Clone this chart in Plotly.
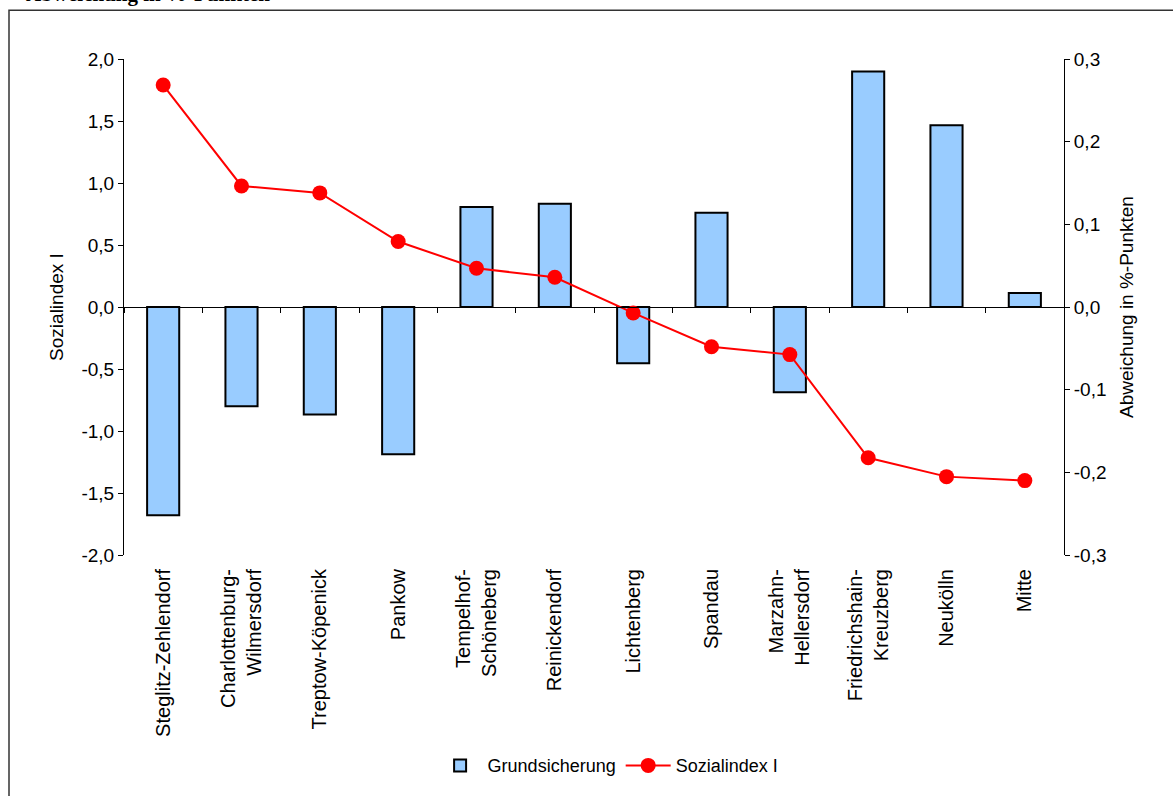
import plotly.graph_objects as go

districts = ["Steglitz-Zehlendorf", "Charlottenburg-<br>Wilmersdorf", "Treptow-Köpenick", "Pankow",
             "Tempelhof-<br>Schöneberg", "Reinickendorf", "Lichtenberg", "Spandau",
             "Marzahn-<br>Hellersdorf", "Friedrichshain-<br>Kreuzberg", "Neukölln", "Mitte"]
grundsicherung = [-0.252, -0.120, -0.130, -0.178, 0.121, 0.125, -0.068, 0.114, -0.103, 0.285, 0.220, 0.017]
sozialindex = [1.79, 0.976, 0.92, 0.528, 0.312, 0.24, -0.048, -0.32, -0.384, -1.216, -1.368, -1.40]

left_ticks = [-2.0, -1.5, -1.0, -0.5, 0.0, 0.5, 1.0, 1.5, 2.0]
left_labels = ["-2,0", "-1,5", "-1,0", "-0,5", "0,0", "0,5", "1,0", "1,5", "2,0"]
right_ticks = [-0.3, -0.2, -0.1, 0.0, 0.1, 0.2, 0.3]
right_labels = ["-0,3", "-0,2", "-0,1", "0,0", "0,1", "0,2", "0,3"]

FONT = "Liberation Sans, Arial, sans-serif"
FS = 19

fig = go.Figure()
fig.add_trace(go.Bar(x=districts, y=grundsicherung, name="Grundsicherung",
                     marker=dict(color="#99CCFF", line=dict(color="black", width=2)),
                     xaxis="x", yaxis="y"))
fig.add_trace(go.Scatter(x=districts, y=sozialindex, name="Sozialindex I", mode="lines+markers",
                         line=dict(color="#FF0000", width=2), marker=dict(color="#FF0000", size=15),
                         xaxis="x2", yaxis="y2"))

W, H = 1173, 796
L, R, T, B = 124, 1064, 59, 558
def px(x): return (x - L) / (R - L)
def py(y): return (B - y) / (B - T)

fig.update_layout(
    width=W, height=H,
    margin=dict(l=L, r=W - R, t=T, b=H - B),
    paper_bgcolor="white", plot_bgcolor="white",
    font=dict(family=FONT, size=FS, color="black"),
    bargap=0.59,
    showlegend=True,
    legend=dict(orientation="h", x=0.515, xanchor="center", y=py(770), yanchor="middle",
                font=dict(size=18), itemwidth=45),
    xaxis=dict(type="category", categoryarray=districts, range=[-0.5, 11.5], anchor="y",
               showline=False, ticks="", showgrid=False, tickangle=-90, tickfont=dict(size=20),
               ticklabelstandoff=9, zeroline=False),
    xaxis2=dict(type="category", categoryarray=districts, range=[-0.5, 11.5], overlaying="x",
                anchor="free", position=0.5, side="bottom", showline=True, linecolor="black",
                linewidth=1, ticks="outside", ticklen=5, tickcolor="black", tickson="boundaries",
                showticklabels=False, showgrid=False, zeroline=False),
    yaxis=dict(range=[-0.3, 0.3], tickvals=right_ticks, ticktext=right_labels, side="right", anchor="x",
               showline=True, linecolor="black", linewidth=1, ticks="outside", ticklen=5,
               tickcolor="black", showgrid=False, zeroline=False, tickfont=dict(size=FS),
               title=dict(text="Abweichung in %-Punkten", standoff=14, font=dict(size=FS))),
    yaxis2=dict(range=[-2, 2], tickvals=left_ticks, ticktext=left_labels, side="left", overlaying="y",
                anchor="x2", showline=True, linecolor="black", linewidth=1, ticks="outside",
                ticklen=5, tickcolor="black", showgrid=False, zeroline=False, tickfont=dict(size=FS),
                title=dict(text="Sozialindex I", standoff=12, font=dict(size=FS))),
)

fig.add_shape(type="rect", xref="paper", yref="paper",
              x0=px(9), x1=px(1190), y0=py(830), y1=py(10),
              line=dict(color="#333333", width=1.5), fillcolor="rgba(0,0,0,0)", layer="below")

fig.add_annotation(xref="paper", yref="paper", x=px(24), y=py(8), xanchor="left", yanchor="bottom",
                   text="<b>Abweichung in %-Punkten</b>", showarrow=False,
                   font=dict(family="Liberation Serif, Times New Roman, serif", size=21, color="black"))

fig.write_html("out.html", config={"displayModeBar": False},
               post_script="document.body.style.margin='0';document.body.style.overflow='hidden';")
